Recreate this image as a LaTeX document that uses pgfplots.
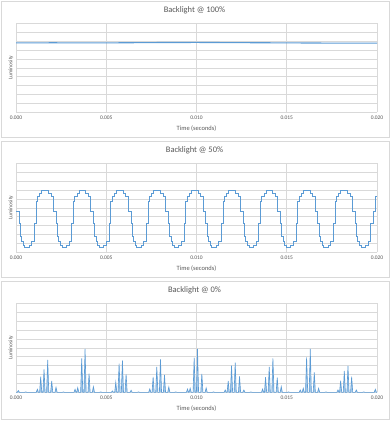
\documentclass[border=0pt]{standalone}
\usepackage{pgfplots}
\pgfplotsset{compat=1.18}
\usepackage{fontspec}
\setmainfont{Carlito}
\definecolor{lineblue}{HTML}{5B9BD5}
\definecolor{txtgray}{HTML}{595959}
\definecolor{gridgray}{HTML}{D9D9D9}
\pgfplotsset{panel/.style={
  scale only axis, width=361bp, height=89bp,
  xmin=0,xmax=20,ymin=0,ymax=10,
  xtick={0,5,10,15,20}, xticklabels={0.000,0.005,0.010,0.015,0.020},
  ytick={0,1,...,10}, yticklabels={},
  major tick length=0pt,
  grid=major, major grid style={gridgray, line width=0.6bp},
  axis line style={draw=none},
  /pgf/number format/assume math mode=true,
  tick label style={font=\fontsize{5.5}{6}\selectfont, text=txtgray},
  xticklabel style={anchor=center, yshift=-5.7bp},
  xlabel={Time (seconds)},
  xlabel style={at={(axis description cs:0.5,-0.188)}, anchor=center, font=\fontsize{6.5}{7}\selectfont, text=txtgray},
  ylabel={Luminosity},
  ylabel style={at={(axis description cs:-0.014,0.5)}, anchor=center, font=\fontsize{5.5}{6}\selectfont, text=txtgray},
}}
\tikzset{ptitle/.style={anchor=center, font=\fontsize{8.5}{10}\selectfont, text=txtgray, inner sep=0pt}}
\begin{document}
\begin{tikzpicture}
\useasboundingbox (0,0) rectangle (390bp,-421bp);
\fill[white] (0,0) rectangle (390bp,-421bp);
\draw[gridgray, line width=0.6bp] (1bp,-1bp) rectangle (389bp,-137bp);
\draw[gridgray, line width=0.6bp] (1bp,-141bp) rectangle (389bp,-277bp);
\draw[gridgray, line width=0.6bp] (1bp,-281bp) rectangle (389bp,-419bp);
\node[ptitle] at (194.5bp,-10bp) {Backlight @ 100\%};
\node[ptitle] at (194.5bp,-150bp) {Backlight @ 50\%};
\node[ptitle] at (194.5bp,-290bp) {Backlight @ 0\%};

\begin{axis}[panel, at={(16bp,-112.3bp)}, anchor=south west]
\addplot[lineblue, line width=1.1bp] coordinates {(0,7.80)(2,7.81)(5,7.80)(8,7.84)(10,7.85)(12,7.83)(15,7.80)(17,7.78)(20,7.78)};
\end{axis}

\begin{axis}[panel, at={(16bp,-252.3bp)}, anchor=south west]
\addplot[lineblue, line width=0.9bp, const plot mark left] coordinates {
(0.000,4.57)
(0.166,3.26)(0.231,1.76)(0.306,1.20)(0.397,0.82)(0.489,0.56)(0.730,0.82)(0.877,1.20)(1.025,3.26)(1.118,5.69)(1.192,6.25)(1.321,6.63)(1.432,6.93)(1.802,6.63)(1.949,6.25)(2.079,4.57)
(2.236,3.26)(2.301,1.76)(2.376,1.20)(2.467,0.82)(2.559,0.56)(2.800,0.82)(2.947,1.20)(3.095,3.26)(3.188,5.69)(3.262,6.25)(3.391,6.63)(3.502,6.93)(3.872,6.63)(4.019,6.25)(4.149,4.57)
(4.306,3.26)(4.371,1.76)(4.446,1.20)(4.537,0.82)(4.629,0.56)(4.870,0.82)(5.017,1.20)(5.165,3.26)(5.258,5.69)(5.332,6.25)(5.461,6.63)(5.572,6.93)(5.942,6.63)(6.089,6.25)(6.219,4.57)
(6.376,3.26)(6.441,1.76)(6.516,1.20)(6.607,0.82)(6.699,0.56)(6.940,0.82)(7.087,1.20)(7.235,3.26)(7.328,5.69)(7.402,6.25)(7.531,6.63)(7.642,6.93)(8.012,6.63)(8.159,6.25)(8.289,4.57)
(8.446,3.26)(8.511,1.76)(8.586,1.20)(8.677,0.82)(8.769,0.56)(9.010,0.82)(9.157,1.20)(9.305,3.26)(9.398,5.69)(9.472,6.25)(9.601,6.63)(9.712,6.93)(10.082,6.63)(10.229,6.25)(10.359,4.57)
(10.516,3.26)(10.581,1.76)(10.656,1.20)(10.747,0.82)(10.839,0.56)(11.080,0.82)(11.227,1.20)(11.375,3.26)(11.468,5.69)(11.542,6.25)(11.671,6.63)(11.782,6.93)(12.152,6.63)(12.299,6.25)(12.429,4.57)
(12.586,3.26)(12.651,1.76)(12.726,1.20)(12.817,0.82)(12.909,0.56)(13.150,0.82)(13.297,1.20)(13.445,3.26)(13.538,5.69)(13.612,6.25)(13.741,6.63)(13.852,6.93)(14.222,6.63)(14.369,6.25)(14.499,4.57)
(14.656,3.26)(14.721,1.76)(14.796,1.20)(14.887,0.82)(14.979,0.56)(15.220,0.82)(15.367,1.20)(15.515,3.26)(15.608,5.69)(15.682,6.25)(15.811,6.63)(15.922,6.93)(16.292,6.63)(16.439,6.25)(16.569,4.57)
(16.726,3.26)(16.791,1.76)(16.866,1.20)(16.957,0.82)(17.049,0.56)(17.290,0.82)(17.437,1.20)(17.585,3.26)(17.678,5.69)(17.752,6.25)(17.881,6.63)(17.992,6.93)(18.362,6.63)(18.509,6.25)(18.639,4.57)
(18.796,3.26)(18.861,1.76)(18.936,1.20)(19.027,0.82)(19.119,0.56)(19.360,0.82)(19.507,1.20)(19.655,3.26)(19.800,4.57)(19.900,6.25)(20.000,6.25)
};
\end{axis}

\begin{axis}[panel, at={(16bp,-392.3bp)}, anchor=south west]
\addplot[lineblue, line width=0.6bp, fill=lineblue!55] coordinates {
(0,0)(0.069,0)(0.129,0.19)(0.189,0)(0.476,0)(0.536,0.04)(0.596,0)
(1.123,0)(1.183,0.34)(1.243,0)(1.308,0)(1.368,1.76)(1.428,0)(1.493,0)(1.553,2.58)(1.613,0)(1.696,0)(1.756,3.63)(1.816,0)(1.918,0)(1.978,1.27)(2.038,0)(2.158,0)(2.218,0.56)(2.278,0)(2.565,0)(2.625,0.04)(2.685,0)
(3.212,0)(3.272,0.34)(3.332,0)(3.360,0)(3.420,0.52)(3.480,0)(3.581,0)(3.641,3.82)(3.701,0)(3.766,0)(3.826,4.87)(3.886,0)(3.988,0)(4.048,2.10)(4.108,0)(4.228,0)(4.288,0.64)(4.348,0)(4.635,0)(4.695,0.04)(4.755,0)
(5.282,0)(5.342,0.15)(5.402,0)(5.467,0)(5.527,1.12)(5.587,0)(5.652,0)(5.712,3.22)(5.772,0)(5.836,0)(5.896,3.60)(5.956,0)(6.040,0)(6.100,2.02)(6.160,0)(6.317,0)(6.377,0.22)(6.437,0)(6.724,0)(6.784,0.04)(6.844,0)
(7.352,0)(7.412,0.37)(7.472,0)(7.537,0)(7.597,1.72)(7.657,0)(7.740,0)(7.800,2.85)(7.860,0)(7.944,0)(8.004,3.71)(8.064,0)(8.166,0)(8.226,1.95)(8.286,0)(8.406,0)(8.466,0.60)(8.526,0)(8.794,0)(8.854,0.04)(8.914,0)
(9.441,0)(9.501,0.37)(9.561,0)(9.589,0)(9.649,0.45)(9.709,0)(9.811,0)(9.871,3.90)(9.931,0)(9.995,0)(10.055,4.87)(10.115,0)(10.236,0)(10.296,2.06)(10.356,0)(10.476,0)(10.536,0.49)(10.596,0)(10.883,0)(10.943,0.04)(11.003,0)
(11.530,0)(11.590,0.26)(11.650,0)(11.696,0)(11.756,1.27)(11.816,0)(11.881,0)(11.941,3.00)(12.001,0)(12.084,0)(12.144,3.33)(12.204,0)(12.324,0)(12.384,1.80)(12.444,0)(12.565,0)(12.625,0.26)(12.685,0)(12.953,0)(13.013,0.04)(13.073,0)
(13.600,0)(13.660,0.37)(13.720,0)(13.766,0)(13.826,1.69)(13.886,0)(13.969,0)(14.029,2.85)(14.089,0)(14.173,0)(14.233,3.82)(14.293,0)(14.413,0)(14.473,1.65)(14.533,0)(14.635,0)(14.695,0.64)(14.755,0)(15.042,0)(15.102,0.04)(15.162,0)
(15.689,0)(15.749,0.26)(15.809,0)(15.855,0)(15.915,0.45)(15.975,0)(16.040,0)(16.100,3.93)(16.160,0)(16.243,0)(16.303,4.87)(16.363,0)(16.465,0)(16.525,2.25)(16.585,0)(16.705,0)(16.765,0.45)(16.825,0)(17.112,0)(17.172,0.04)(17.232,0)
(17.777,0)(17.837,0.26)(17.897,0)(17.925,0)(17.985,1.31)(18.045,0)(18.129,0)(18.189,2.40)(18.249,0)(18.332,0)(18.392,2.96)(18.452,0)(18.535,0)(18.595,1.75)(18.655,0)(18.794,0)(18.854,0.26)(18.914,0)(19.201,0)(19.261,0.04)(19.321,0)
(19.848,0)(19.908,0.34)(19.968,0)(20,0)
};
\end{axis}
\end{tikzpicture}
\end{document}
